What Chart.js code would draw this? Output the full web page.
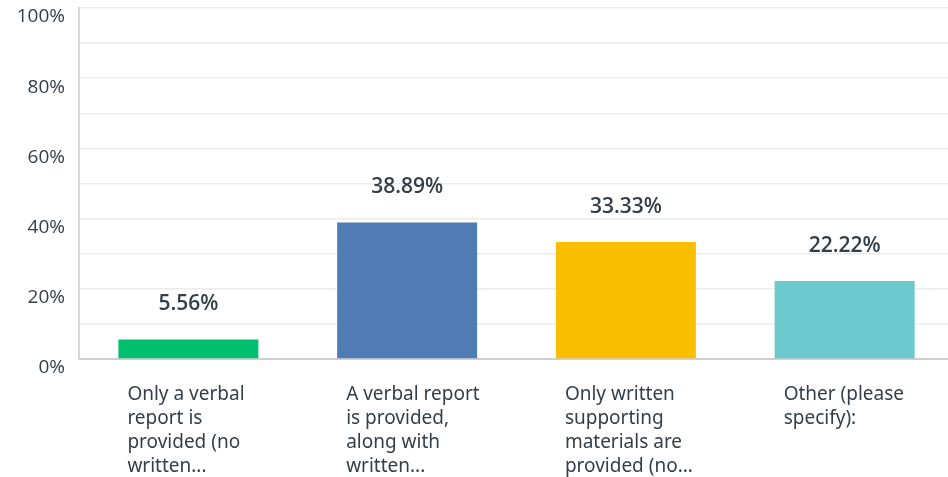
<!DOCTYPE html>
<html lang="en">
<head>
    <meta charset="UTF-8">
    <script src="https://cdn.jsdelivr.net/npm/chart.js"></script>
    <title>Survey responses</title>
    <style>
        html, body { margin: 0; padding: 0; background: #fff; overflow: hidden; }
        #wrap { width: 954px; height: 477px; }
    </style>
</head>
<body>
    <div id="wrap"><canvas id="chart1"></canvas></div>

    <script>
        const categories = [
            ['Only a verbal', 'report is', 'provided (no', 'written...'],
            ['A verbal report', 'is provided,', 'along with', 'written...'],
            ['Only written', 'supporting', 'materials are', 'provided (no...'],
            ['Other (please', 'specify):']
        ];
        const percentages = [5.56, 38.89, 33.33, 22.22];
        const barColors = ['#00bf6f', '#507cb6', '#f9be00', '#6bc8cd'];
        const yTickValues = [0, 20, 40, 60, 80, 100];

        // draw the percentage above each bar
        const valueLabels = {
            id: 'valueLabels',
            afterDatasetsDraw(chart) {
                const ctx = chart.ctx;
                const meta = chart.getDatasetMeta(0);
                ctx.save();
                ctx.font = '600 21px "Open Sans", sans-serif';
                ctx.fillStyle = '#333e48';
                ctx.textAlign = 'center';
                ctx.textBaseline = 'middle';
                meta.data.forEach((bar, i) => {
                    ctx.fillText(percentages[i].toFixed(2) + '%', bar.x, bar.y - 35);
                });
                ctx.restore();
            }
        };

        const ctx1 = document.getElementById('chart1').getContext('2d');
        const chart = new Chart(ctx1, {
            type: 'bar',
            data: {
                labels: categories,
                datasets: [{
                    data: percentages,
                    backgroundColor: barColors,
                    borderWidth: 0,
                    categoryPercentage: 0.64,
                    barPercentage: 1.0,
                }],
            },
            options: {
                responsive: true,
                maintainAspectRatio: false,
                animation: false,
                layout: { padding: { top: 8, right: 0, left: 0, bottom: 0 } },
                plugins: {
                    legend: { display: false },
                    tooltip: { enabled: false },
                },
                scales: {
                    x: {
                        grid: { display: false, drawTicks: false },
                        border: { color: '#cfcfcf', width: 2 },
                        afterFit: (s) => { s.height = 118; s.paddingLeft = 0; s.paddingRight = 0; },
                        ticks: {
                            align: 'start',
                            labelOffset: -61,
                            padding: 24,
                            maxRotation: 0,
                            autoSkip: false,
                            color: '#333e48',
                            font: { family: '"Noto Sans", sans-serif', size: 19, lineHeight: 1.26 },
                        },
                    },
                    y: {
                        min: 0,
                        max: 100,
                        grid: { color: '#ececec', lineWidth: 1.5, drawTicks: false },
                        border: { color: '#d6d6d6', width: 2 },
                        afterFit: (s) => { s.width = 79; s.paddingTop = 0; s.paddingBottom = 0; },
                        ticks: {
                            stepSize: 10,
                            padding: 14,
                            labelOffset: 9,
                            color: '#333e48',
                            font: { family: '"Open Sans", sans-serif', size: 19 },
                            callback: (v) => yTickValues.includes(v) ? v + '%' : '',
                        },
                    },
                },
            },
            plugins: [valueLabels],
        });
    </script>
</body>
</html>
